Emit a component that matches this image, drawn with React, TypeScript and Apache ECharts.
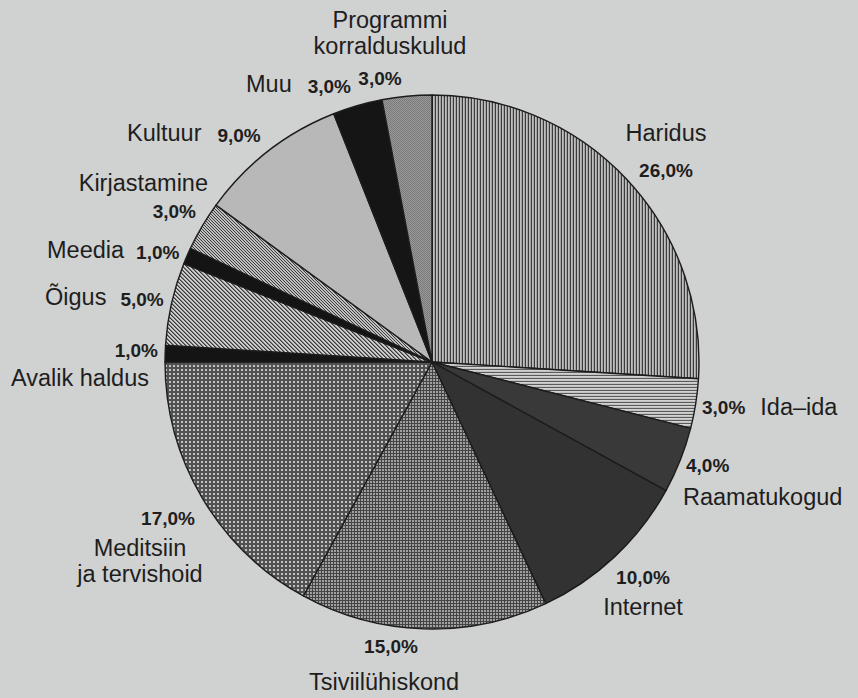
import React, { useEffect, useRef } from "react";
import * as echarts from "echarts";

// ---- data ----
const categories = [
  "Haridus",
  "Ida–ida",
  "Raamatukogud",
  "Internet",
  "Tsiviilühiskond",
  "Meditsiin\nja tervishoid",
  "Avalik haldus",
  "Õigus",
  "Meedia",
  "Kirjastamine",
  "Kultuur",
  "Muu",
  "Programmi\nkorralduskulud",
];
const values = [26, 3, 4, 10, 15, 17, 1, 5, 1, 3, 9, 3, 3];

// ---- label layout (positions / styles only) ----
type Fmt = "np" | "pn" | "n_p" | "p_n";
interface LPos {
  x: number;
  y: number;
  align: "left" | "center" | "right";
  fmt: Fmt;
  nLH: number;
  pLH: number;
  pPad?: number[];
  nPad?: number[];
}
const labelPos: LPos[] = [
  { x: 666, y: 114.5, align: "center", fmt: "np", nLH: 37, pLH: 37 },
  { x: 702, y: 395, align: "left", fmt: "p_n", nLH: 24, pLH: 24, pPad: [0, 15, 0, 0] },
  { x: 683, y: 449, align: "left", fmt: "pn", nLH: 32, pLH: 32, pPad: [0, 0, 0, 3] },
  { x: 643, y: 562, align: "center", fmt: "pn", nLH: 30, pLH: 30 },
  { x: 384, y: 628, align: "center", fmt: "pn", nLH: 36, pLH: 36, pPad: [0, 0, 0, 14] },
  { x: 140, y: 501, align: "center", fmt: "pn", nLH: 26, pLH: 34, pPad: [0, 0, 0, 56] },
  { x: 158, y: 336, align: "right", fmt: "pn", nLH: 28, pLH: 28, nPad: [0, 9, 0, 0] },
  { x: 45, y: 284, align: "left", fmt: "n_p", nLH: 26, pLH: 26, pPad: [5, 0, 0, 14] },
  { x: 47, y: 237, align: "left", fmt: "n_p", nLH: 26, pLH: 26, pPad: [5, 0, 0, 12] },
  { x: 208, y: 169, align: "right", fmt: "np", nLH: 28, pLH: 28, pPad: [0, 12, 0, 0] },
  { x: 127, y: 120, align: "left", fmt: "n_p", nLH: 26, pLH: 26, pPad: [4, 0, 0, 16] },
  { x: 246, y: 71, align: "left", fmt: "n_p", nLH: 26, pLH: 26, pPad: [4, 0, 0, 16] },
  { x: 390, y: 7, align: "center", fmt: "np", nLH: 26, pLH: 38, pPad: [0, 20, 0, 0] },
];

// ---- pattern tiles ----
type PixFn = (x: number, y: number) => string;
function tile(w: number, h: number, fn: PixFn) {
  const c = document.createElement("canvas");
  c.width = w;
  c.height = h;
  const ctx = c.getContext("2d")!;
  for (let y = 0; y < h; y++) {
    for (let x = 0; x < w; x++) {
      ctx.fillStyle = fn(x, y);
      ctx.fillRect(x, y, 1, 1);
    }
  }
  return { image: c.toDataURL(), repeat: "repeat", imageWidth: w, imageHeight: h };
}

function makeFills(): any[] {
  const vStripe = tile(3, 3, (x) => ["#3c3c3c", "#bebebe", "#a2a2a2"][x]);
  const hStripe = tile(3, 3, (_x, y) => ["#5a5a5a", "#d2d2d2", "#c2c2c2"][y]);
  const grid = tile(3, 3, (x, y) => (x === 0 || y === 0 ? "#444444" : "#a0a0a0"));
  const dots = tile(4, 4, (x, y) => (x >= 1 && x <= 2 && y >= 1 && y <= 2 ? "#c2c2c2" : "#525252"));
  const diag4 = tile(4, 4, (x, y) => ["#3a3a3a", "#7c7c7c", "#d2d2d2", "#c6c6c6"][(((x - y) % 4) + 4) % 4]);
  const diag3 = tile(3, 3, (x, y) => ["#3c3c3c", "#c8c8c8", "#b6b6b6"][(((x - y) % 3) + 3) % 3]);
  const stipple = tile(2, 2, (x, y) => ((x + y) % 2 === 0 ? "#7a7a7a" : "#999999"));
  return [
    vStripe, // Haridus
    hStripe, // Ida-ida
    "#393939", // Raamatukogud
    "#323232", // Internet
    grid, // Tsiviilühiskond
    dots, // Meditsiin
    "#141414", // Avalik haldus
    diag4, // Õigus
    "#141414", // Meedia
    diag3, // Kirjastamine
    "#b8b8b8", // Kultuur
    "#151515", // Muu
    stipple, // Programmi
  ];
}

const fmtPct = (v: number) => v.toFixed(1).replace(".", ",") + "%";

export default function App() {
  const ref = useRef<HTMLDivElement>(null);
  useEffect(() => {
    if (!ref.current) return;
    const chart = echarts.init(ref.current, null, { renderer: "svg" });
    const fills = makeFills();
    const total = values.reduce((a, b) => a + b, 0);

    const rich: Record<string, any> = {};
    labelPos.forEach((lp, i) => {
      rich["n" + i] = {
        fontFamily: "Liberation Sans, Arial, sans-serif",
        fontSize: 23.5,
        color: "#1e1e1e",
        lineHeight: lp.nLH,
        padding: lp.nPad || [0, 0, 0, 0],
      };
      rich["p" + i] = {
        fontFamily: "Liberation Sans, Arial, sans-serif",
        fontSize: 19,
        fontWeight: "bold",
        color: "#1e1e1e",
        lineHeight: lp.pLH,
        padding: lp.pPad || [0, 0, 0, 0],
      };
    });

    const data = categories.map((name, i) => ({
      name,
      value: values[i],
      itemStyle: { color: fills[i] },
    }));

    chart.setOption({
      animation: false,
      backgroundColor: "#d0d1d1",
      series: [
        {
          type: "pie",
          center: [432, 362],
          radius: 267,
          startAngle: 90,
          clockwise: true,
          avoidLabelOverlap: false,
          data,
          itemStyle: { borderColor: "#1c1c1c", borderWidth: 1.4 },
          emphasis: { disabled: true },
          labelLine: { show: false },
          label: {
            show: true,
            position: "outside",
            rich,
            formatter: (p: any) => {
              const i = p.dataIndex;
              const lp = labelPos[i];
              const nameStr = String(p.name)
                .split("\n")
                .map((s) => `{n${i}|${s}}`)
                .join("\n");
              const pct = `{p${i}|${fmtPct((values[i] / total) * 100)}}`;
              switch (lp.fmt) {
                case "np":
                  return nameStr + "\n" + pct;
                case "pn":
                  return pct + "\n" + nameStr;
                case "n_p":
                  return nameStr + pct;
                default:
                  return pct + nameStr;
              }
            },
          },
          labelLayout: (params: any) => {
            const lp = labelPos[params.dataIndex];
            return { x: lp.x, y: lp.y, align: lp.align, verticalAlign: "top" };
          },
        },
      ],
    });
    return () => chart.dispose();
  }, []);
  return (
    <div
      ref={ref}
      style={{ position: "absolute", left: 0, top: 0, width: 858, height: 698 }}
    />
  );
}
